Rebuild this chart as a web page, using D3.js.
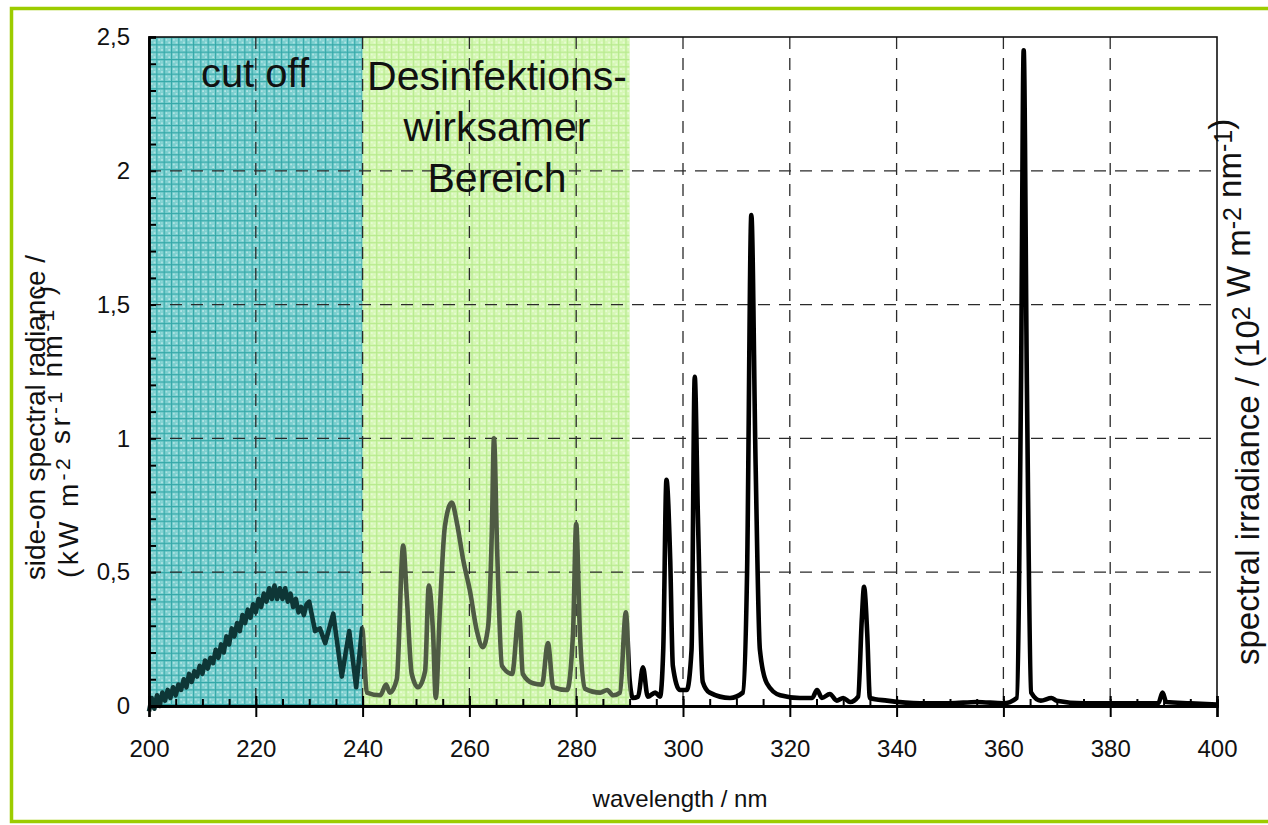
<!DOCTYPE html>
<html>
<head>
<meta charset="utf-8">
<script src="https://cdn.jsdelivr.net/npm/d3@7"></script>
<style>
  html, body { margin: 0; padding: 0; background: #fff; overflow: hidden; }
  svg { display: block; }
  text { font-family: 'Liberation Sans', Arial, sans-serif; fill: #111; }
</style>
</head>
<body>
<svg id="chart" width="1268" height="825"></svg>
<script>
// ---------------- data ----------------
const xTicks = [200, 220, 240, 260, 280, 300, 320, 340, 360, 380, 400];
const yTicks = [0, 0.5, 1, 1.5, 2, 2.5];
const yTickLabels = ["0", "0,5", "1", "1,5", "2", "2,5"];
const xGrid = [220, 240, 260, 280, 300, 320, 340, 360, 380];
const yGrid = [0.5, 1, 1.5, 2];
const bandNames = ["cut off", "Desinfektions-wirksamer Bereich"];
const bandStart = [200, 240];
const bandEnd = [240, 290];
const bandLines = [["cut off"], ["Desinfektions-", "wirksamer", "Bereich"]];
const segmentEnds = [240, 290, 400];   // line colour changes at these wavelengths

// [wavelength nm, side-on spectral radiance kW m-2 sr-1 nm-1]
const spectrum = [
  [200,-0.02],[200.5,0.03],[201,-0.01],[201.5,0.04],[202,0.00],[202.5,0.05],[203,0.02],[203.5,0.06],[204,0.03],[204.5,0.07],
  [205,0.04],[205.5,0.08],[206,0.06],[206.5,0.10],[207,0.07],[207.5,0.12],[208,0.09],[208.5,0.13],[209,0.11],[209.5,0.15],
  [210,0.12],[210.5,0.17],[211,0.14],[211.5,0.18],[212,0.16],[212.5,0.21],[213,0.18],[213.5,0.23],[214,0.20],[214.5,0.26],
  [215,0.23],[215.5,0.29],[216,0.26],[216.5,0.31],[217,0.28],[217.5,0.34],[218,0.31],[218.5,0.36],[219,0.33],[219.5,0.38],
  [220,0.35],[220.5,0.40],[221,0.37],[221.5,0.42],[222,0.39],[222.5,0.44],[223,0.40],[223.5,0.45],[224,0.40],[224.5,0.44],
  [225,0.40],[225.5,0.44],[226,0.39],[226.5,0.42],[227,0.37],[227.5,0.40],[228,0.35],[228.5,0.37],[229,0.34],[229.5,0.38],
  [230,0.39],[230.6,0.33],[231.1,0.28],[232,0.29],[233,0.235],[234.5,0.345],[236.1,0.11],[237.5,0.28],[238.8,0.07],[239.9,0.29],
  [240.8,0.05],[243.3,0.04],[244.4,0.08],[245.1,0.05],[246.4,0.10],[247.6,0.60],[248.3,0.40],[249.2,0.12],[250.4,0.07],
  [251.7,0.13],[252.4,0.45],[253.2,0.27],[253.7,0.03],[254.5,0.37],[255.4,0.67],[256.7,0.76],[257.7,0.68],[258.8,0.55],
  [260.1,0.43],[261.4,0.28],[262.5,0.22],[263.5,0.295],[264.2,0.65],[264.6,1.00],[265.2,0.58],[266.1,0.15],[268,0.12],
  [269.3,0.35],[270,0.12],[271.9,0.085],[273.6,0.08],[274.7,0.235],[275.7,0.07],[278.3,0.06],[279.4,0.27],[280,0.68],
  [280.7,0.27],[281.6,0.065],[284.5,0.05],[285.8,0.06],[286.9,0.04],[288.2,0.05],[289.3,0.35],[290,0.10],[290.6,0.03],
  [291.6,0.035],[292.5,0.145],[293.4,0.035],[294.8,0.05],[295.7,0.035],[296.3,0.21],[296.9,0.845],[297.6,0.55],[298.1,0.15],
  [299.4,0.06],[300.7,0.06],[301.6,0.21],[302.2,1.23],[302.8,0.70],[303.7,0.09],[305,0.05],[308.8,0.03],[311.2,0.05],
  [312,0.50],[312.8,1.835],[313.6,0.90],[314.4,0.21],[315.7,0.085],[318.2,0.04],[321.9,0.03],[324.2,0.03],[325.1,0.06],
  [326,0.03],[327.5,0.045],[328.8,0.02],[330,0.03],[331.3,0.015],[332.8,0.035],[333.5,0.33],[333.9,0.445],[334.5,0.27],
  [335,0.03],[338.2,0.02],[344.4,0.01],[350,0.01],[355,0.015],[360,0.01],[362.5,0.03],[363.3,1.2],[363.8,2.45],[364.4,1.2],
  [365.2,0.05],[367,0.02],[369,0.03],[370,0.02],[375,0.01],[380,0.01],[385,0.01],[389,0.01],[389.8,0.05],[390.5,0.015],
  [395,0.01],[400,0.005]
];

// ---------------- layout ----------------
const W = 1268, H = 825;
const M = {left: 149, right: 1217, top: 37, bottom: 706};
const svg = d3.select("#chart");
const x = d3.scaleLinear().domain([200, 400]).range([M.left, M.right]);
const y = d3.scaleLinear().domain([0, 2.5]).range([M.bottom, M.top]);

svg.append("rect").attr("width", W).attr("height", H).attr("fill", "#fff");

const defs = svg.append("defs");
function makePattern(id, base, line, dot) {
  const s = 7.33;
  const p = defs.append("pattern").attr("id", id).attr("patternUnits", "userSpaceOnUse")
    .attr("x", M.left).attr("y", M.top).attr("width", s).attr("height", s);
  p.append("rect").attr("width", s).attr("height", s).attr("fill", base);
  p.append("rect").attr("x", 2).attr("y", 2).attr("width", 1.6).attr("height", 1.6).attr("fill", dot);
  p.append("rect").attr("x", 4.8).attr("y", 4.8).attr("width", 1.6).attr("height", 1.6).attr("fill", dot);
  p.append("rect").attr("x", 4.8).attr("y", 2).attr("width", 1.2).attr("height", 1.2).attr("fill", dot).attr("opacity", 0.6);
  p.append("rect").attr("x", 0).attr("y", 0).attr("width", s).attr("height", 1.1).attr("fill", line);
  p.append("rect").attr("x", 0).attr("y", 0).attr("width", 1.1).attr("height", s).attr("fill", line);
}
makePattern("patTeal", "#7ccfcf", "#33a8a8", "#bfeaea");
makePattern("patGreen", "#d6f7b6", "#b6ea8c", "#ecfddc");
const bandFill = ["url(#patTeal)", "url(#patGreen)"];
const lineColors = ["#0e3636", "#4f5b44", "#000"];

// bands
svg.append("g").selectAll("rect").data(bandNames).join("rect")
  .attr("x", (d, i) => x(bandStart[i]))
  .attr("y", y(2.5))
  .attr("width", (d, i) => x(bandEnd[i]) - x(bandStart[i]))
  .attr("height", y(0) - y(2.5))
  .attr("fill", (d, i) => bandFill[i]);

// grid
const grid = svg.append("g").attr("stroke", "#2a2a2a").attr("stroke-width", 1.3).attr("stroke-dasharray", "12,9");
grid.selectAll("line.v").data(xGrid).join("line").attr("class", "v")
  .attr("x1", d => x(d)).attr("x2", d => x(d)).attr("y1", y(2.5)).attr("y2", y(0));
grid.selectAll("line.h").data(yGrid).join("line").attr("class", "h")
  .attr("x1", x(200)).attr("x2", x(400)).attr("y1", d => y(d)).attr("y2", d => y(d));

// spectrum, coloured per region via clip paths
const lineSmooth = d3.line().x(d => x(d[0])).y(d => y(d[1])).curve(d3.curveMonotoneX);
const lineNoisy = d3.line().x(d => x(d[0])).y(d => y(d[1])).curve(d3.curveLinear);
let prev = 196;
segmentEnds.forEach((end, i) => {
  const id = "clip" + i;
  defs.append("clipPath").attr("id", id).append("rect")
    .attr("x", i === 0 ? 0 : x(prev)).attr("y", 0)
    .attr("width", (i === segmentEnds.length - 1 ? W : x(end)) - (i === 0 ? 0 : x(prev)))
    .attr("height", H);
  svg.append("path").datum(spectrum)
    .attr("d", i === 0 ? lineNoisy : lineSmooth)
    .attr("fill", "none")
    .attr("stroke", lineColors[i])
    .attr("stroke-width", 4.6)
    .attr("stroke-linejoin", "round")
    .attr("clip-path", `url(#${id})`);
  prev = end;
});

// frame
svg.append("rect").attr("x", x(200)).attr("y", y(2.5))
  .attr("width", x(400) - x(200)).attr("height", y(0) - y(2.5))
  .attr("fill", "none").attr("stroke", "#111").attr("stroke-width", 1.6);

// axes
const axisFont = "'Liberation Sans', Arial, sans-serif";
const yAxis = svg.append("g").attr("transform", `translate(${M.left},0)`)
  .call(d3.axisLeft(y).tickValues(yTicks).tickFormat((d, i) => yTickLabels[i]).tickSize(0).tickPadding(19));
const yMinor = svg.append("g").attr("transform", `translate(${M.left},0)`)
  .call(d3.axisLeft(y).tickValues(d3.range(0, 26).map(v => v / 10)).tickFormat("").tickSize(-7));
const xAxis = svg.append("g").attr("transform", `translate(0,${M.bottom})`)
  .call(d3.axisBottom(x).tickValues(xTicks).tickFormat(d3.format("d")).tickSize(11).tickPadding(23));
const xMajUp = svg.append("g").attr("transform", `translate(0,${M.bottom})`)
  .call(d3.axisBottom(x).tickValues(xTicks).tickFormat("").tickSize(-10));
const xMinor = svg.append("g").attr("transform", `translate(0,${M.bottom})`)
  .call(d3.axisBottom(x).tickValues(d3.range(200, 401, 5)).tickFormat("").tickSize(-7));
[yAxis, yMinor, xAxis, xMajUp, xMinor].forEach(g => {
  g.select(".domain").attr("stroke", "#000").attr("stroke-width", 2.4);
  g.selectAll(".tick line").attr("stroke", "#000").attr("stroke-width", 2);
  g.selectAll("text").attr("font-family", axisFont).attr("font-size", 24).attr("fill", "#111");
});

// band labels
const labelY0 = [87, 90];
const labelX = [255, 497];
const labelSize = [40, 41];
bandLines.forEach((lines, i) => {
  svg.append("text")
    .attr("text-anchor", "middle")
    .attr("font-size", labelSize[i])
    .selectAll("tspan").data(lines).join("tspan")
    .attr("x", labelX[i])
    .attr("y", (d, j) => labelY0[i] + j * 51)
    .text(d => d);
});

// axis titles
svg.append("text").attr("x", 680).attr("y", 807).attr("text-anchor", "middle")
  .attr("font-size", 24).text("wavelength / nm");

function withSup(t, parts, supSize, raise) {
  parts.forEach(p => {
    if (p.sup) {
      t.append("tspan").attr("dy", -raise).attr("font-size", supSize).text(p.s);
      t.append("tspan").attr("dy", raise).text("");
    } else {
      t.append("tspan").text(p.s);
    }
  });
}

svg.append("text").attr("transform", "translate(45,580) rotate(-90)")
  .attr("font-size", 28).attr("textLength", 325).attr("lengthAdjust", "spacing")
  .text("side-on spectral radiance /");
const yl2 = svg.append("text").attr("transform", "translate(78,578) rotate(-90)")
  .attr("font-size", 28);
withSup(yl2, [{s: "(kW m"}, {s: "-2", sup: 1}, {s: " sr"}, {s: "-1", sup: 1}, {s: " nm"}, {s: "-1", sup: 1}, {s: " )"}], 21, 8);
yl2.attr("textLength", 292).attr("lengthAdjust", "spacing");

const yr = svg.append("text").attr("transform", "translate(1259,665) rotate(-90)")
  .attr("font-size", 33);
withSup(yr, [{s: "spectral irradiance / (10"}, {s: "2", sup: 1}, {s: " W m"}, {s: "-2", sup: 1}, {s: " nm"}, {s: "-1", sup: 1}, {s: ")"}], 25, 9);

// outer green frame
svg.append("rect").attr("x", 11.5).attr("y", 8.5).attr("width", W + 20).attr("height", 813)
  .attr("fill", "none").attr("stroke", "#9ccc00").attr("stroke-width", 3.5);
</script>
</body>
</html>
